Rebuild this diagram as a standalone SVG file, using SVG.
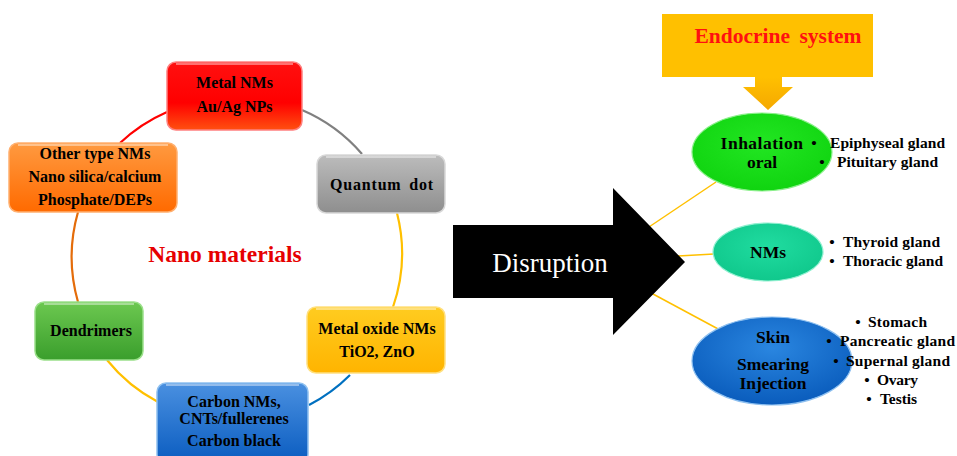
<svg xmlns="http://www.w3.org/2000/svg" width="957" height="456" viewBox="0 0 957 456">
<defs>
<style>
.bt{font-family:"Liberation Serif","Times New Roman",serif;font-weight:bold;font-size:16px;fill:#000;text-anchor:middle}
.et{font-family:"Liberation Serif","Times New Roman",serif;font-weight:bold;font-size:17.5px;fill:#000;text-anchor:middle}
.lt{font-family:"Liberation Serif","Times New Roman",serif;font-weight:bold;font-size:15.5px;fill:#000}
.bu{font-family:"Liberation Serif","Times New Roman",serif;font-weight:bold;font-size:15.5px;fill:#000;text-anchor:middle}
.arc{fill:none;stroke-width:2.2}
.box{stroke-width:1.5}
.hl{fill:none;stroke:#fff;stroke-opacity:0.55;stroke-width:1.5}
.cn{stroke:#ffc000;stroke-width:1.5;fill:none}
</style>
<linearGradient id="gRed" x1="0" y1="0" x2="0" y2="1"><stop offset="0" stop-color="#ff1010"/><stop offset="0.6" stop-color="#ff0000"/><stop offset="1" stop-color="#ff5010"/></linearGradient>
<linearGradient id="gOrg" x1="0" y1="0" x2="0" y2="1"><stop offset="0" stop-color="#ff9a40"/><stop offset="1" stop-color="#ff6a00"/></linearGradient>
<linearGradient id="gGry" x1="0" y1="0" x2="0" y2="1"><stop offset="0" stop-color="#bcbcbc"/><stop offset="1" stop-color="#8e8e8e"/></linearGradient>
<linearGradient id="gGrn" x1="0" y1="0" x2="0" y2="1"><stop offset="0" stop-color="#6cc850"/><stop offset="1" stop-color="#3a9e2c"/></linearGradient>
<linearGradient id="gYel" x1="0" y1="0" x2="0" y2="1"><stop offset="0" stop-color="#ffcc20"/><stop offset="1" stop-color="#ffb400"/></linearGradient>
<linearGradient id="gBlu" x1="0" y1="0" x2="0" y2="1"><stop offset="0" stop-color="#4a90e0"/><stop offset="1" stop-color="#0a5cc0"/></linearGradient>
<linearGradient id="gDown" x1="0" y1="0" x2="0" y2="1"><stop offset="0" stop-color="#ffc000"/><stop offset="1" stop-color="#f5a800"/></linearGradient>
<radialGradient id="eGrn" cx="0.5" cy="0.4" r="0.6"><stop offset="0" stop-color="#22e622"/><stop offset="1" stop-color="#10d410"/></radialGradient>
<radialGradient id="eTeal" cx="0.5" cy="0.4" r="0.6"><stop offset="0" stop-color="#20dca0"/><stop offset="1" stop-color="#10c88c"/></radialGradient>
<radialGradient id="eBlu" cx="0.5" cy="0.35" r="0.65"><stop offset="0" stop-color="#2a86e0"/><stop offset="1" stop-color="#0a5cbc"/></radialGradient>
</defs>
<rect width="957" height="456" fill="#fff"/>

<g id="connectors">
<path class="arc" stroke="#ff0000" d="M120,143 A164,164 0 0 1 167,112"/>
<path class="arc" stroke="#808080" d="M302,110 A164,164 0 0 1 362,154"/>
<path class="arc" stroke="#ffc000" d="M397,213 A164,164 0 0 1 393,307"/>
<path class="arc" stroke="#0070c0" d="M350,375 A164,164 0 0 1 309,405"/>
<path class="arc" stroke="#ffc000" d="M158,402 A164,164 0 0 1 107,360"/>
<path class="arc" stroke="#e46c0a" d="M78,302 A164,164 0 0 1 78,212"/>
<line class="cn" x1="640" y1="233" x2="716" y2="182"/>
<line class="cn" x1="660" y1="257" x2="714" y2="254"/>
<line class="cn" x1="640" y1="287" x2="720" y2="330"/>
</g>

<g id="metal-nms">
<rect class="box" x="167" y="62" width="135" height="68" rx="9" fill="url(#gRed)" stroke="#ff8080"/>
<path class="hl" d="M176,64 H293"/>
<text class="bt" x="234.5" y="88">Metal NMs</text>
<text class="bt" x="234.5" y="112">Au/Ag NPs</text>
</g>

<g id="other-nms">
<rect class="box" x="9" y="143" width="168" height="69" rx="9" fill="url(#gOrg)" stroke="#ffb070"/>
<path class="hl" d="M18,145 H168"/>
<text class="bt" x="95" y="159">Other type NMs</text>
<text class="bt" x="95" y="182">Nano silica/calcium</text>
<text class="bt" x="95" y="205">Phosphate/DEPs</text>
</g>

<g id="quantum-dot">
<rect class="box" x="317" y="155" width="128" height="58" rx="9" fill="url(#gGry)" stroke="#d8d8d8"/>
<path class="hl" d="M326,157 H436"/>
<text class="bt" x="382" y="190" style="letter-spacing:0.8px;word-spacing:3px">Quantum dot</text>
</g>

<g id="dendrimers">
<rect class="box" x="35" y="302" width="108" height="58" rx="9" fill="url(#gGrn)" stroke="#9be08a"/>
<path class="hl" d="M44,304 H134"/>
<text class="bt" x="91" y="336">Dendrimers</text>
</g>

<g id="metal-oxide">
<rect class="box" x="307" y="307" width="138" height="66" rx="9" fill="url(#gYel)" stroke="#ffe080"/>
<path class="hl" d="M316,309 H436"/>
<text class="bt" x="377" y="334">Metal oxide NMs</text>
<text class="bt" x="377" y="357">TiO2, ZnO</text>
</g>

<g id="carbon-nms">
<rect class="box" x="157" y="383" width="151" height="80" rx="9" fill="url(#gBlu)" stroke="#8ec0f0"/>
<path class="hl" d="M166,385 H299"/>
<text class="bt" x="234" y="407">Carbon NMs,</text>
<text class="bt" x="234" y="424">CNTs/fullerenes</text>
<text class="bt" x="234" y="446">Carbon black</text>
</g>

<g id="nano-materials">
<text x="225" y="262" style="font-family:'Liberation Serif','Times New Roman',serif;font-weight:bold;font-size:23.5px;fill:#e60000;text-anchor:middle">Nano materials</text>
</g>

<g id="disruption">
<polygon points="453,225 613,225 613,188 685,262 613,335 613,298 453,298" fill="#000"/>
<text x="550" y="272" style="font-family:'Liberation Serif','Times New Roman',serif;font-size:27px;fill:#fff;text-anchor:middle">Disruption</text>
</g>

<g id="endocrine-system">
<rect x="662" y="14" width="211" height="63" fill="#ffc000"/>
<text x="778" y="43" style="font-family:'Liberation Serif','Times New Roman',serif;font-weight:bold;font-size:21.5px;fill:#ff1010;text-anchor:middle;word-spacing:4px">Endocrine system</text>
<polygon points="755,77 782,77 782,87 793,87 768,110 743,87 755,87" fill="url(#gDown)"/>
</g>

<g id="inhalation-oral">
<ellipse cx="762" cy="152" rx="70" ry="39" fill="url(#eGrn)" stroke="#8af08a" stroke-width="1.2"/>
<text class="et" x="762" y="149" style="letter-spacing:0.5px">Inhalation</text>
<text class="et" x="762" y="168">oral</text>
<text class="bu" x="814" y="148">•</text>
<text class="lt" x="830" y="148" textLength="115" lengthAdjust="spacing">Epiphyseal gland</text>
<text class="bu" x="822" y="167">•</text>
<text class="lt" x="837" y="167" textLength="101" lengthAdjust="spacing">Pituitary gland</text>
</g>

<g id="nms">
<ellipse cx="768" cy="252" rx="55" ry="29" fill="url(#eTeal)" stroke="#90f0d0" stroke-width="1.2"/>
<text class="et" x="768" y="258">NMs</text>
<text class="bu" x="832" y="247">•</text>
<text class="lt" x="843" y="247" textLength="97" lengthAdjust="spacing">Thyroid gland</text>
<text class="bu" x="832" y="266">•</text>
<text class="lt" x="843" y="266" textLength="100" lengthAdjust="spacing">Thoracic gland</text>
</g>

<g id="skin-smearing-injection">
<ellipse cx="772" cy="361" rx="80" ry="44" fill="url(#eBlu)" stroke="#8ec0f0" stroke-width="1.2"/>
<text class="et" x="773" y="343">Skin</text>
<text class="et" x="773" y="370">Smearing</text>
<text class="et" x="773" y="389">Injection</text>
<text class="bu" x="858" y="327">•</text>
<text class="lt" x="868" y="327" textLength="59" lengthAdjust="spacing">Stomach</text>
<text class="bu" x="829" y="346">•</text>
<text class="lt" x="840" y="346" textLength="115" lengthAdjust="spacing">Pancreatic gland</text>
<text class="bu" x="836" y="366">•</text>
<text class="lt" x="846" y="366" textLength="104" lengthAdjust="spacing">Supernal gland</text>
<text class="bu" x="867" y="385">•</text>
<text class="lt" x="877" y="385" textLength="41" lengthAdjust="spacing">Ovary</text>
<text class="bu" x="869" y="404">•</text>
<text class="lt" x="880" y="404" textLength="37" lengthAdjust="spacing">Testis</text>
</g>
</svg>
